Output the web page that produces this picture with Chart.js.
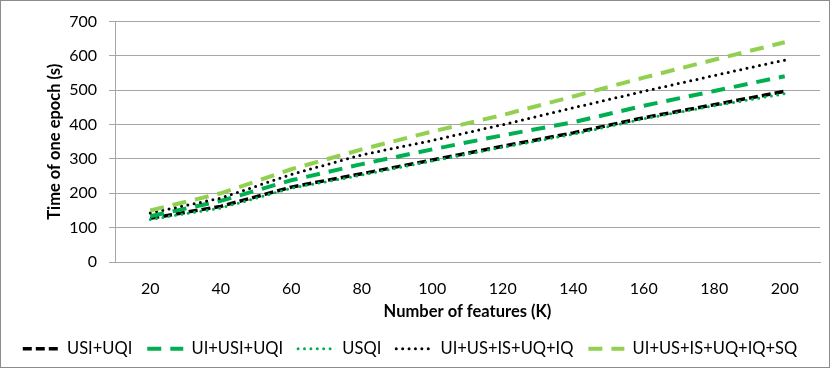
<!DOCTYPE html>
<html>
<head>
<meta charset="utf-8">
<script src="https://cdn.jsdelivr.net/npm/chart.js@4.4.0/dist/chart.umd.min.js"></script>
<style>
  body { margin: 0; background: #fff; }
  #wrap { width: 830px; height: 368px; }
</style>
</head>
<body>
<div id="wrap"><canvas id="epochChart" width="830" height="368"></canvas></div>
<script>
// x categories: number of features (K)
const features = ['20', '40', '60', '80', '100', '120', '140', '160', '180', '200'];
const yTicks = [0, 100, 200, 300, 400, 500, 600, 700];

// time of one epoch (s)
const usiUqi = [127, 162, 218, 257, 297, 337, 376, 420, 458, 497];
const uiUsiUqi = [133, 178, 238, 285, 328, 369, 407, 455, 498, 541];
const usqi = [124, 157, 215, 253, 294, 334, 372, 417, 455, 490];
const uiUsIsUqIq = [143, 186, 255, 312, 354, 400, 449, 497, 543, 588];
const uiUsIsUqIqSq = [150, 200, 270, 328, 380, 428, 482, 537, 589, 640];

const FONT = 'Lato, "Open Sans", sans-serif';
const GRID = '#a6a6a6';

// outer frame like the exported chart
const framePlugin = {
    id: 'frame',
    afterDraw(chart) {
        const ctx = chart.ctx;
        ctx.save();
        ctx.strokeStyle = '#8c8c8c';
        ctx.lineWidth = 1;
        ctx.strokeRect(0.5, 0.5, chart.width - 1, chart.height - 1);
        ctx.restore();
    }
};

function series(label, data, color, width, dash, cap, order) {
    return {
        label: label,
        data: data,
        borderColor: color,
        backgroundColor: color,
        borderWidth: width,
        borderDash: dash,
        borderCapStyle: cap,
        pointRadius: 0,
        tension: 0,
        fill: false,
        order: order // later series drawn on top, like the original
    };
}

const ctx = document.getElementById('epochChart').getContext('2d');
new Chart(ctx, {
    type: 'line',
    data: {
        labels: features,
        datasets: [
            series('USI+UQI', usiUqi, '#000000', 3.5, [9, 4], 'butt', 5),
            series('UI+USI+UQI', uiUsiUqi, '#00B050', 4, [14, 9], 'butt', 4),
            series('USQI', usqi, '#00B050', 3, [0, 6.4], 'round', 3),
            series('UI+US+IS+UQ+IQ', uiUsIsUqIq, '#000000', 3, [0, 6.4], 'round', 2),
            series('UI+US+IS+UQ+IQ+SQ', uiUsIsUqIqSq, '#92D050', 4, [14, 9], 'butt', 1)
        ]
    },
    options: {
        responsive: false,
        devicePixelRatio: 1,
        animation: false,
        layout: { padding: { left: 0, right: 10, top: 5.5, bottom: 1 } },
        plugins: {
            tooltip: { enabled: false },
            legend: {
                position: 'bottom',
                labels: {
                    usePointStyle: true,
                    pointStyleWidth: 36,
                    padding: 15,
                    color: '#000',
                    font: { family: FONT, size: 16.5 },
                    // keep dataset order and the line dash of each series
                    generateLabels(chart) {
                        return chart.data.datasets.map((ds, i) => ({
                            text: ds.label,
                            datasetIndex: i,
                            fillStyle: ds.borderColor,
                            strokeStyle: ds.borderColor,
                            lineWidth: ds.borderWidth,
                            lineDash: ds.borderDash,
                            lineCap: ds.borderCapStyle,
                            pointStyle: 'line',
                            fontColor: '#000',
                            hidden: false
                        }));
                    }
                }
            }
        },
        scales: {
            x: {
                offset: true,
                grid: { display: false, drawTicks: false },
                border: { color: GRID, width: 1 },
                ticks: { color: '#000', font: { family: FONT, size: 16 }, padding: 17 },
                afterFit(scale) {
                    scale.height = 63.5;
                },
                title: {
                    display: true,
                    text: 'Number of features (K)',
                    color: '#000',
                    font: { family: FONT, size: 16.5, weight: 'bold' },
                    padding: { top: 0, bottom: 4 }
                }
            },
            y: {
                min: 0,
                max: 700,
                afterBuildTicks(scale) {
                    scale.ticks = yTicks.map(v => ({ value: v }));
                },
                afterFit(scale) {
                    scale.width = 115;
                },
                grid: { color: GRID, lineWidth: 1, tickLength: 6 },
                border: { color: GRID, width: 1 },
                ticks: { color: '#000', font: { family: FONT, size: 16 }, padding: 12 },
                title: {
                    display: true,
                    text: 'Time of one epoch (s)',
                    color: '#000',
                    font: { family: FONT, size: 16.5, weight: 'bold' },
                    padding: { top: 45, bottom: 0 }
                }
            }
        }
    },
    plugins: [framePlugin]
});
</script>
</body>
</html>
